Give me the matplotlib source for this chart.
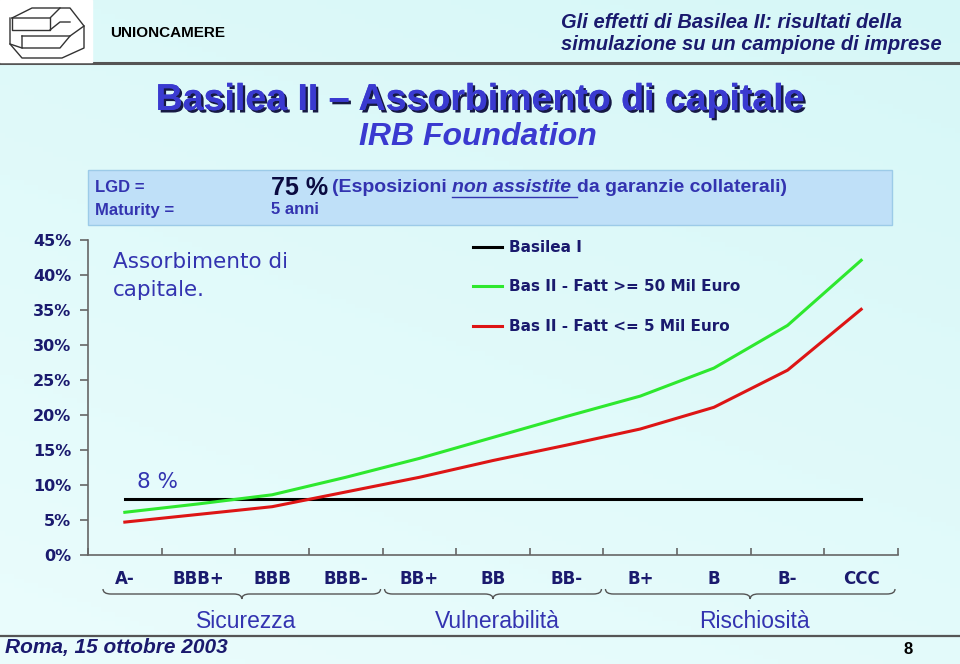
import numpy as np
import matplotlib.pyplot as plt
import matplotlib.patheffects as pe
from matplotlib.path import Path
from matplotlib.patches import PathPatch, Rectangle

# rating classes and capital absorption (%)
ratings = ['A-', 'BBB+', 'BBB', 'BBB-', 'BB+', 'BB', 'BB-', 'B+', 'B', 'B-', 'CCC']
basilea1 = [8, 8, 8, 8, 8, 8, 8, 8, 8, 8, 8]
fatt_50 = [6.1, 7.3, 8.6, 11.1, 13.8, 16.8, 19.8, 22.7, 26.7, 32.8, 42.1]
fatt_5 = [4.7, 5.8, 6.9, 9.0, 11.1, 13.5, 15.7, 18.0, 21.1, 26.4, 35.1]
series_names = ['Basilea I', 'Bas II - Fatt >= 50 Mil Euro', 'Bas II - Fatt <= 5 Mil Euro']
groups = ['Sicurezza', 'Vulnerabilità', 'Rischiosità']
group_spans = [(0, 3), (4, 6), (7, 10)]

NAVY = '#1a1a6e'
BLUE = '#3333b0'
NARROW = 'Liberation Sans'

fig = plt.figure(figsize=(9.6, 6.64), dpi=100)

# background layer in pixel coordinates
bg = fig.add_axes([0, 0, 1, 1], zorder=0)
bg.set_xlim(0, 960)
bg.set_ylim(664, 0)
bg.axis('off')
gx, gy = np.meshgrid(np.linspace(0, 1, 200), np.linspace(0, 1, 140))
grad = 0.35 * gx + 0.65 * (1 - gy)
c0 = np.array([0.92, 0.99, 0.99])
c1 = np.array([0.84, 0.97, 0.97])
img = c0[None, None, :] * (1 - grad[..., None]) + c1[None, None, :] * grad[..., None]
bg.imshow(img, extent=(0, 960, 664, 0), aspect='auto', zorder=0)

# header / footer rules
bg.plot([0, 960], [63, 63], color='#555555', lw=2.2, zorder=1)
bg.plot([0, 960], [636, 636], color='#555555', lw=1.6, zorder=1)

# logo
bg.add_patch(Rectangle((0, 0), 92, 62, color='white', zorder=1))
logo = [[(12, 18), (32, 8), (70, 8), (84, 26), (84, 48), (62, 58), (22, 58), (10, 44), (10, 18)],
        [(12, 18), (50, 18), (60, 8)], [(12, 18), (12, 30), (50, 30), (50, 18)],
        [(50, 30), (60, 22), (70, 22)], [(22, 36), (70, 36), (84, 26)],
        [(22, 36), (22, 48), (60, 48), (70, 36)], [(22, 48), (10, 44)]]
for seg in logo:
    xs, ys = zip(*seg)
    bg.plot(xs, ys, color='#333333', lw=1.0, zorder=2)
bg.text(110, 33, 'UNIONCAMERE', fontsize=11, fontweight='bold', family=NARROW,
        color='black', va='center', zorder=2)
bg.text(561, 22, 'Gli effetti di Basilea II: risultati della', fontsize=14.5,
        fontweight='bold', style='italic', family=NARROW, color=NAVY, va='center', zorder=2)
bg.text(561, 44, 'simulazione su un campione di imprese', fontsize=14.5,
        fontweight='bold', style='italic', family=NARROW, color=NAVY, va='center', zorder=2)

# titles
bg.text(480, 100, 'Basilea II \u2013 Assorbimento di capitale', fontsize=27, fontweight='bold',
        family=NARROW, color='#3a3ad0', ha='center', va='center', zorder=2,
        path_effects=[pe.withSimplePatchShadow(offset=(1.8, -1.8), shadow_rgbFace='#000030', alpha=0.9),
                      pe.Normal()])
bg.text(478, 137, 'IRB Foundation', fontsize=23, fontweight='bold', style='italic',
        family=NARROW, color='#3a3ad0', ha='center', va='center', zorder=2)

# info box
bg.add_patch(Rectangle((88, 170), 804, 55, facecolor='#bfe0f8', edgecolor='#9ccbe8', lw=1, zorder=1))
bg.text(95, 188, 'LGD =', fontsize=12, fontweight='bold', family=NARROW, color=BLUE, va='center', zorder=2)
bg.text(95, 210, 'Maturity =', fontsize=12, fontweight='bold', family=NARROW, color=BLUE, va='center', zorder=2)
bg.text(271, 210, '5 anni', fontsize=12, fontweight='bold', family=NARROW, color=BLUE, va='center', zorder=2)
t75 = bg.text(271, 188, '75 %', fontsize=18, fontweight='bold', family=NARROW, color='#0a0a40',
              va='center', zorder=2)
fig.canvas.draw()
r = fig.canvas.get_renderer()
inv = bg.transData.inverted()


def right_edge(t):
    bb = t.get_window_extent(r)
    return inv.transform((bb.x1, bb.y0))[0]


x = right_edge(t75) + 4
p1 = bg.text(x, 188, '(Esposizioni ', fontsize=14, fontweight='bold', family=NARROW,
             color=BLUE, va='center', zorder=2)
x = right_edge(p1)
p2 = bg.text(x, 188, 'non assistite ', fontsize=14, fontweight='bold', style='italic',
             family=NARROW, color=BLUE, va='center', zorder=2)
x2 = right_edge(p2)
bg.plot([x, x2], [197, 197], color=BLUE, lw=1, zorder=2)
bg.text(x2, 188, 'da garanzie collaterali)', fontsize=14, fontweight='bold', family=NARROW,
        color=BLUE, va='center', zorder=2)

# footer
bg.text(5, 648, 'Roma, 15 ottobre 2003', fontsize=15, fontweight='bold', style='italic',
        family=NARROW, color=NAVY, va='center', zorder=2)
bg.text(903, 650, '8', fontsize=12, fontweight='bold', family=NARROW, color='black', va='center', zorder=2)

# main chart
ax = fig.add_axes([88 / 960, 109 / 664, 810 / 960, 315 / 664], zorder=2)
ax.set_facecolor('none')
xpos = np.arange(len(ratings))
ax.plot(xpos, basilea1, color='black', lw=2.2, label=series_names[0])
ax.plot(xpos, fatt_50, color='#2ee82e', lw=2.2, label=series_names[1])
ax.plot(xpos, fatt_5, color='#dd1515', lw=2.2, label=series_names[2])
ax.set_xlim(-0.5, len(ratings) - 0.5)
ax.set_ylim(0, 45)
ax.set_yticks(np.arange(0, 46, 5))
ax.set_yticklabels(['%d%%' % v for v in range(0, 46, 5)])
ax.set_xticks(xpos)
ax.set_xticklabels(ratings)
ax.set_xticks(np.arange(-0.5, len(ratings)), minor=True)
for s in ['top', 'right']:
    ax.spines[s].set_visible(False)
for s in ['left', 'bottom']:
    ax.spines[s].set_color('#666666')
    ax.spines[s].set_linewidth(1.2)
ax.tick_params(axis='y', direction='out', length=6, width=1.2, color='#666666', pad=6,
               labelsize=11.5, labelcolor=NAVY)
ax.tick_params(axis='x', which='major', length=0, pad=11, labelsize=12, labelcolor=NAVY)
ax.tick_params(axis='x', which='minor', direction='in', length=5, width=1.2, color='#666666')
for lab in ax.get_xticklabels() + ax.get_yticklabels():
    lab.set_fontweight('bold')

leg = ax.legend(loc='upper left', bbox_to_anchor=(0.475, 1.0), frameon=False, fontsize=11,
                handlelength=1.9, handletextpad=0.45, labelspacing=1.6, borderpad=0, borderaxespad=0)
for t in leg.get_texts():
    t.set_color(NAVY)
    t.set_fontweight('bold')

ax.text(113, 262, 'Assorbimento di', transform=bg.transData, fontsize=15.5, color=BLUE, va='center')
ax.text(113, 290, 'capitale.', transform=bg.transData, fontsize=15.5, color=BLUE, va='center')
ax.text(137, 482, '8 %', transform=bg.transData, fontsize=15.5, color=BLUE, va='center')

# braces under rating groups
to_px = lambda v: 88 + (v + 0.5) * 810 / len(ratings)
for (a, b), name in zip(group_spans, groups):
    x0 = to_px(a - 0.5) + (15 if a == 0 else 2)
    x1 = to_px(b + 0.5) - (3 if b == len(ratings) - 1 else 2)
    xm = (x0 + x1) / 2
    yt, ym, yb = 589, 594, 599
    verts = [(x0, yt), (x0, ym), (x0 + 8, ym), (xm - 8, ym), (xm, ym), (xm, yb),
             (xm, ym), (xm + 8, ym), (x1 - 8, ym), (x1, ym), (x1, yt)]
    codes = [Path.MOVETO, Path.CURVE3, Path.CURVE3, Path.LINETO, Path.CURVE3, Path.CURVE3,
             Path.CURVE3, Path.CURVE3, Path.LINETO, Path.CURVE3, Path.CURVE3]
    bg.add_patch(PathPatch(Path(verts, codes), fill=False, edgecolor='#555555', lw=1, zorder=3))
    bg.text(xm + 4, 622, name, fontsize=16.5, family=NARROW, color=BLUE, ha='center', va='center', zorder=3)

fig.savefig('out.png', dpi=100)
